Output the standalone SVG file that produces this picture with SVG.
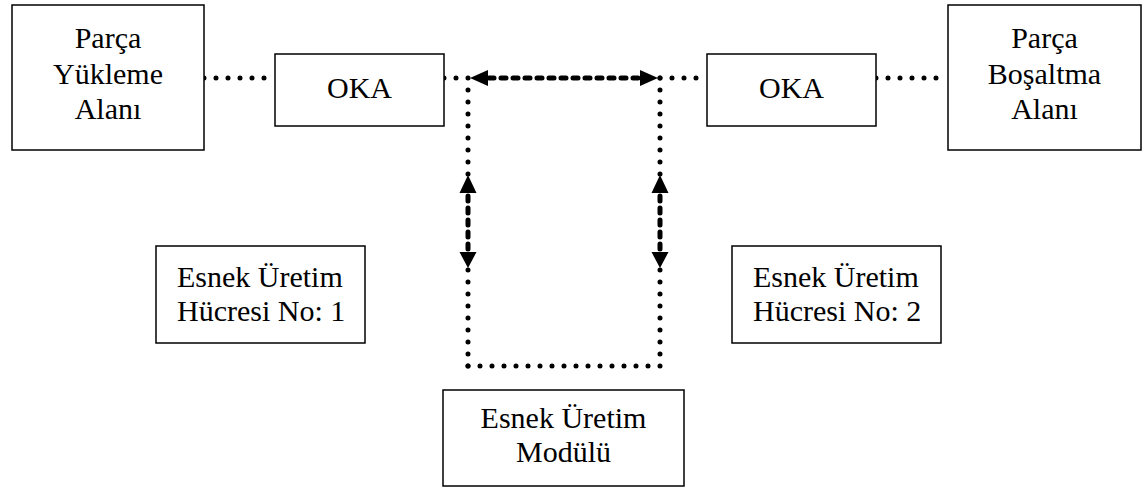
<svg xmlns="http://www.w3.org/2000/svg" width="1145" height="487" viewBox="0 0 1145 487">
<style>
.box{fill:#fff;stroke:#000;stroke-width:1.5}
.t{font-family:"Liberation Serif","Times New Roman",serif;font-size:30px;fill:#000;text-anchor:middle}
.c{font-family:"Liberation Serif","Times New Roman",serif;font-size:30px;fill:#000}
.dot{fill:none;stroke:#000;stroke-width:5;stroke-linecap:round;stroke-dasharray:0 12}
.dash{fill:none;stroke:#000;stroke-width:5;stroke-linecap:round;stroke-dasharray:5 7}
.ah{fill:#000}
</style>
<rect width="1145" height="487" fill="#fff"/>
<g id="connectors">
<path class="dot" d="M204,78 H275"/>
<path class="dot" d="M444,78 H468"/>
<path class="dot" d="M660,78 H707"/>
<path class="dot" d="M876,78 H948"/>
<path class="dot" d="M468,78 V175"/>
<path class="dot" d="M660,78 V175"/>
<path class="dot" d="M468,366 V267"/>
<path class="dot" d="M660,366 V267"/>
<path class="dot" d="M468,366 H660"/>
<path class="dash" d="M489,78 H640"/>
<polygon class="ah" points="470,78 488,70 488,86"/>
<polygon class="ah" points="658,78 640,70 640,86"/>
<path class="dash" d="M468,196 V251"/>
<polygon class="ah" points="468,175 459.5,193 476.5,193"/>
<polygon class="ah" points="468,268 459.5,252 476.5,252"/>
<path class="dash" d="M660,196 V251"/>
<polygon class="ah" points="660,175 651.5,193 668.5,193"/>
<polygon class="ah" points="660,268 651.5,252 668.5,252"/>
</g>
<g id="yukleme">
<rect class="box" x="12" y="5" width="192" height="145"/>
<text class="t" x="108" y="48">Parça</text>
<text class="t" x="108" y="84">Yükleme</text>
<text class="t" x="108" y="119">Alanı</text>
</g>
<g id="oka1">
<rect class="box" x="275" y="54" width="169" height="72"/>
<text class="t" x="359.5" y="98">OKA</text>
</g>
<g id="oka2">
<rect class="box" x="707" y="54" width="169" height="72"/>
<text class="t" x="791.5" y="98">OKA</text>
</g>
<g id="bosaltma">
<rect class="box" x="948" y="5" width="193" height="145"/>
<text class="t" x="1044.5" y="48">Parça</text>
<text class="t" x="1044.5" y="84">Boşaltma</text>
<text class="t" x="1044.5" y="119">Alanı</text>
</g>
<g id="hucre1">
<rect class="box" x="156" y="246" width="209" height="97"/>
<text class="c" x="177" y="287">Esnek Üretim</text>
<text class="c" x="177" y="321">Hücresi No: 1</text>
</g>
<g id="hucre2">
<rect class="box" x="732" y="246" width="209" height="97"/>
<text class="c" x="753" y="287">Esnek Üretim</text>
<text class="c" x="753" y="321">Hücresi No: 2</text>
</g>
<g id="modul">
<rect class="box" x="443" y="390" width="241" height="96"/>
<text class="t" x="563.5" y="428">Esnek Üretim</text>
<text class="t" x="563.5" y="462">Modülü</text>
</g>
</svg>
